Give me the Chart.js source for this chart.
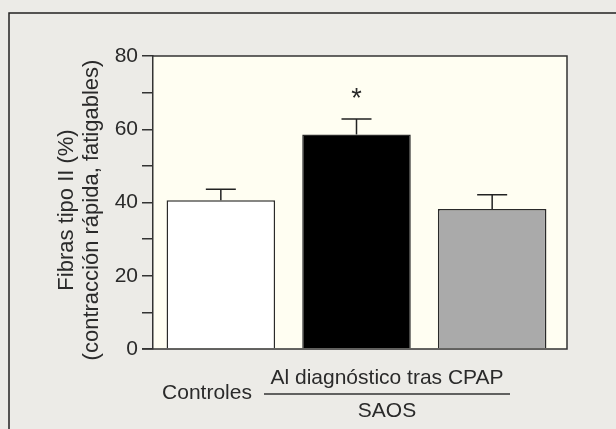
<!DOCTYPE html>
<html>
<head>
<meta charset="utf-8">
<script src="https://cdn.jsdelivr.net/npm/chart.js@4.4.0/dist/chart.umd.min.js"></script>
<style>
  html, body { margin: 0; padding: 0; background: #ecebe7; }
  canvas { display: block; }
</style>
</head>
<body>
<canvas id="myChart" width="616" height="429"></canvas>
<script>
const categories = ['Controles', 'Al diagnóstico', 'tras CPAP'];
const means = [40.6, 58.6, 38.2];
const errorsUp = [43.6, 62.8, 42.1];
const barColors = ['#ffffff', '#000000', '#aaaaaa'];
const starMarks = [null, 69.8, null];
const yTitle = ['Fibras tipo II (%)', '(contracción rápida, fatigables)'];
const groupLabel = 'Al diagnóstico tras CPAP';
const groupName = 'SAOS';

const FONT = '"Liberation Sans", Arial, sans-serif';
const INK = '#2a2a2a';
const PLOT_RIGHT = 567;

// background, frame and plot box
const backdrop = {
  id: 'backdrop',
  beforeDraw(chart) {
    const c = chart.ctx;
    const a = chart.chartArea;
    c.save();
    c.fillStyle = '#ecebe7';
    c.fillRect(0, 0, chart.width, chart.height);
    c.strokeStyle = '#222';
    c.lineWidth = 1.5;
    c.beginPath();
    c.moveTo(9, chart.height);
    c.lineTo(9, 13);
    c.lineTo(chart.width, 13);
    c.stroke();
    c.fillStyle = '#fffef2';
    c.fillRect(a.left, a.top, PLOT_RIGHT - a.left, a.bottom - a.top);
    c.restore();
  },
  afterDatasetsDraw(chart) {
    const c = chart.ctx;
    const a = chart.chartArea;
    const y = chart.scales.y;
    c.save();
    // plot box top/right and baseline
    c.strokeStyle = '#333';
    c.lineWidth = 1.5;
    c.beginPath();
    c.moveTo(a.left, a.top);
    c.lineTo(PLOT_RIGHT, a.top);
    c.lineTo(PLOT_RIGHT, a.bottom);
    c.lineTo(a.left - 11, a.bottom);
    c.stroke();
    // error bars
    c.strokeStyle = '#222';
    c.lineWidth = 1.5;
    const meta = chart.getDatasetMeta(0);
    meta.data.forEach((bar, i) => {
      const top = y.getPixelForValue(means[i]);
      const err = y.getPixelForValue(errorsUp[i]);
      c.beginPath();
      c.moveTo(bar.x, top);
      c.lineTo(bar.x, err);
      c.moveTo(bar.x - 15, err);
      c.lineTo(bar.x + 15, err);
      c.stroke();
      if (starMarks[i] != null) {
        c.fillStyle = INK;
        c.font = '27px ' + FONT;
        c.textAlign = 'center';
        c.textBaseline = 'middle';
        c.fillText('*', bar.x, y.getPixelForValue(starMarks[i]) + 6);
      }
    });
    // y title
    c.fillStyle = INK;
    c.font = '22px ' + FONT;
    c.textAlign = 'center';
    c.textBaseline = 'middle';
    c.save();
    c.translate(67, 210);
    c.rotate(-Math.PI / 2);
    c.fillText(yTitle[0], 0, 0);
    c.restore();
    c.save();
    c.translate(92, 210);
    c.rotate(-Math.PI / 2);
    c.fillText(yTitle[1], 0, 0);
    c.restore();
    // x labels
    c.font = '21px ' + FONT;
    c.fillText(categories[0], 207, 393);
    c.fillText(groupLabel, 387, 378);
    c.fillText(groupName, 387, 411);
    c.strokeStyle = '#333';
    c.lineWidth = 1.5;
    c.beginPath();
    c.moveTo(264, 394);
    c.lineTo(510, 394);
    c.stroke();
    c.restore();
  }
};

new Chart(document.getElementById('myChart'), {
  type: 'bar',
  data: {
    labels: categories,
    datasets: [{
      data: means,
      backgroundColor: barColors,
      borderColor: '#2a2a2a',
      borderWidth: 1.5,
      barPercentage: 0.8,
      categoryPercentage: 1.0
    }]
  },
  options: {
    responsive: false,
    animation: false,
    layout: { padding: { left: 0, top: 56, right: 616 - 560, bottom: 0 } },
    plugins: { legend: { display: false }, tooltip: { enabled: false } },
    scales: {
      x: {
        ticks: { display: false },
        grid: { display: false },
        border: { display: false },
        afterFit: s => { s.height = 80; }
      },
      y: {
        min: 0,
        max: 80,
        ticks: {
          stepSize: 10,
          padding: 4,
          color: INK,
          font: { family: FONT, size: 21 },
          callback: v => (v % 20 === 0 ? v : '')
        },
        grid: {
          drawOnChartArea: false,
          tickLength: 11,
          color: '#333',
          lineWidth: 1.5
        },
        border: { color: '#333', width: 1.5 },
        afterFit: s => { s.width = 153; }
      }
    }
  },
  plugins: [backdrop]
});
</script>
</body>
</html>
